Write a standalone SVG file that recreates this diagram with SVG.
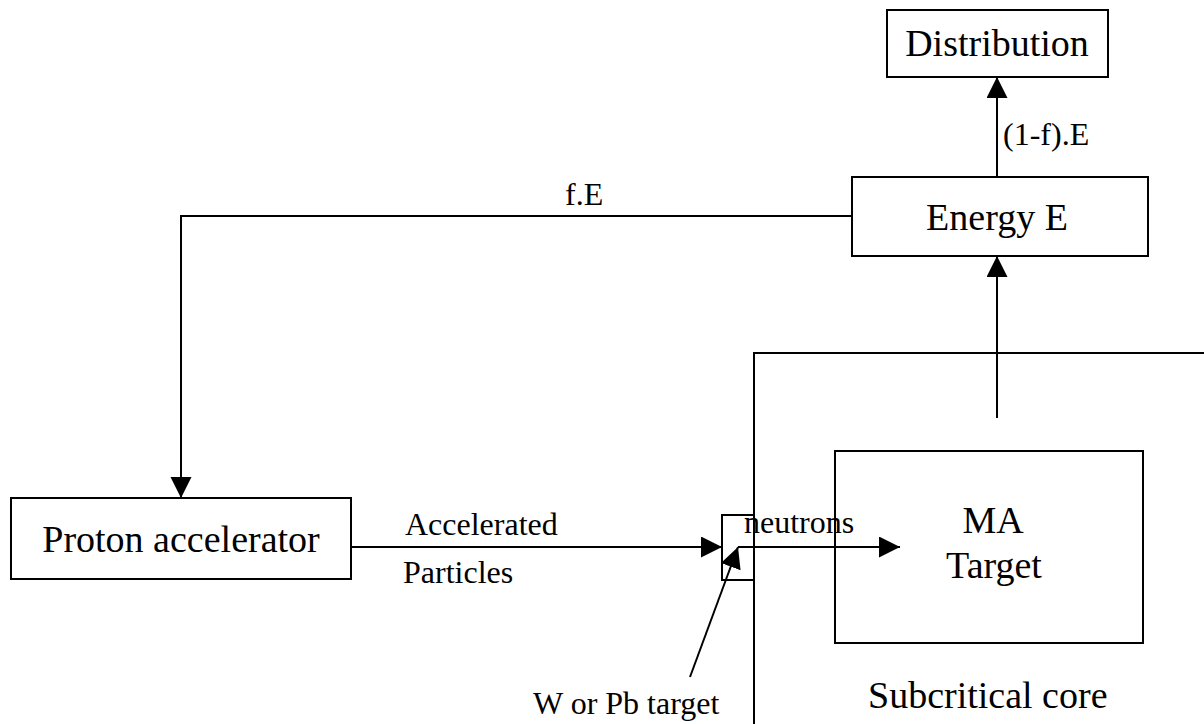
<svg xmlns="http://www.w3.org/2000/svg" width="1204" height="724" viewBox="0 0 1204 724">
  <style>
    .box { fill: #fff; stroke: #000; stroke-width: 2; }
    .ln { fill: none; stroke: #000; stroke-width: 2; }
    .big { font-family: "Liberation Serif", "Times New Roman", serif; font-size: 38px; fill: #000; }
    .small { font-family: "Liberation Serif", "Times New Roman", serif; font-size: 32px; fill: #000; }
  </style>
  <defs>
    <marker id="arrow" markerUnits="userSpaceOnUse" markerWidth="22" markerHeight="22" refX="21" refY="10.5" orient="auto">
      <path d="M0,0 L21,10.5 L0,21 Z" fill="#000"/>
    </marker>
  </defs>
  <rect width="1204" height="724" fill="#fff"/>

  <!-- subcritical core boundary -->
  <g id="core">
    <path class="ln" d="M754,724 L754,353 L1204,353"/>
    <text class="big" x="868" y="708">Subcritical core</text>
  </g>

  <g id="distribution">
    <rect class="box" x="887" y="10" width="221" height="67"/>
    <text class="big" x="997" y="56" text-anchor="middle">Distribution</text>
  </g>

  <g id="energy">
    <rect class="box" x="852" y="177" width="296" height="79"/>
    <text class="big" x="997" y="230" text-anchor="middle">Energy E</text>
  </g>

  <g id="accelerator">
    <rect class="box" x="11" y="498" width="340" height="81"/>
    <text class="big" x="181" y="552" text-anchor="middle">Proton accelerator</text>
  </g>

  <g id="ma-target">
    <rect class="box" x="835" y="451" width="308" height="192"/>
    <text class="big" x="993" y="533" text-anchor="middle">MA</text>
    <text class="big" x="994" y="578" text-anchor="middle">Target</text>
  </g>

  <g id="spallation-target">
    <rect class="box" x="722" y="515" width="32" height="65"/>
    <text class="small" x="533" y="714">W or Pb target</text>
  </g>

  <g id="connectors">
    <!-- energy split -->
    <line class="ln" x1="997" y1="177" x2="997" y2="77" marker-end="url(#arrow)"/>
    <text class="small" x="1003" y="145">(1-f).E</text>
    <path class="ln" d="M852,216 L181,216 L181,498" marker-end="url(#arrow)"/>
    <text class="small" x="565" y="205">f.E</text>
    <!-- core output to energy -->
    <line class="ln" x1="997" y1="418" x2="997" y2="256" marker-end="url(#arrow)"/>
    <!-- accelerated particles -->
    <line class="ln" x1="351" y1="547" x2="722" y2="547" marker-end="url(#arrow)"/>
    <text class="small" x="405" y="535">Accelerated</text>
    <text class="small" x="403" y="583">Particles</text>
    <!-- neutrons -->
    <line class="ln" x1="738" y1="547" x2="900" y2="547" marker-end="url(#arrow)"/>
    <text class="small" x="744" y="533">neutrons</text>
    <!-- target pointer -->
    <line class="ln" x1="690" y1="677" x2="738" y2="547" marker-end="url(#arrow)"/>
  </g>
</svg>
